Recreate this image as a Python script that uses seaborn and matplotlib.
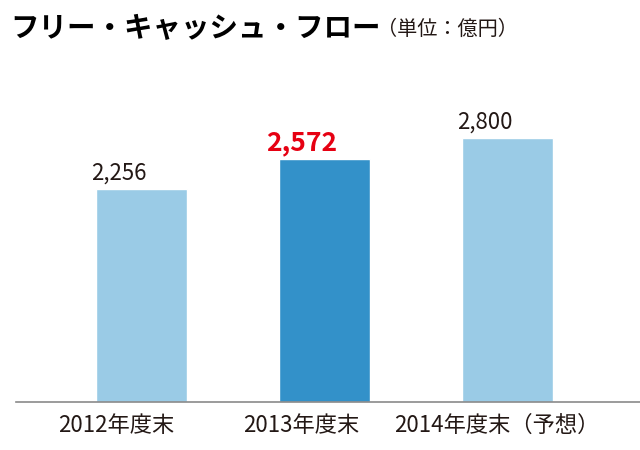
import matplotlib
matplotlib.use("Agg")
import matplotlib.pyplot as plt
from matplotlib.transforms import ScaledTranslation
import seaborn as sns
import pandas as pd

categories = ["2012年度末", "2013年度末", "2014年度末（予想）"]
values = [2256, 2572, 2800]
value_labels = ["2,256", "2,572", "2,800"]
bar_colors = ["#9ACBE6", "#3391C9", "#9ACBE6"]
label_colors = ["#231815", "#E60012", "#231815"]
label_weights = ["normal", "bold", "normal"]

# layout only (pixel offsets of tick labels from bar centres)
tick_dx_px = [-25, -23, -11]

sns.set_theme(style="white")
plt.rcParams['font.family'] = ['Noto Sans CJK JP', 'DejaVu Sans']

df = pd.DataFrame({"cat": categories, "val": values})

fig = plt.figure(figsize=(6.4, 4.5), dpi=100)
ax = fig.add_axes([16/640, 1 - 402/450, 1 - 16/640, 342/450])

sns.barplot(data=df, x="cat", y="val", hue="cat", palette=bar_colors,
            legend=False, width=0.497, ax=ax, saturation=1)

ax.set_xlim(-0.686, 2.724)
ax.set_ylim(0, 3627)

for i, (v, lab, c, w) in enumerate(zip(values, value_labels, label_colors, label_weights)):
    ax.annotate(lab, (i, v), xytext=(-23 * 0.72, 3 if w == "normal" else 2),
                textcoords="offset points", ha="center", va="bottom",
                fontsize=16 if w == "normal" else 19, color=c, fontweight=w)

for s in ["top", "right", "left"]:
    ax.spines[s].set_visible(False)
ax.spines["bottom"].set_color("#8a8a8a")
ax.spines["bottom"].set_linewidth(1.2)
ax.set_yticks([])
ax.set_xlabel("")
ax.set_ylabel("")
ax.tick_params(axis="x", length=0, pad=8.5, labelsize=16, labelcolor="#231815")

for lab, dx in zip(ax.get_xticklabels(), tick_dx_px):
    lab.set_transform(lab.get_transform() + ScaledTranslation(dx / 100, 0, fig.dpi_scale_trans))

fig.text(10/640, 1 - 29/450, "フリー・キャッシュ・フロー", fontsize=20.5,
         fontweight="bold", color="#000000", va="center", ha="left")
fig.text(377/640, 1 - 29/450, "（単位：億円）", fontsize=14.5,
         color="#231815", va="center", ha="left")

fig.savefig("out.png", dpi=100)
